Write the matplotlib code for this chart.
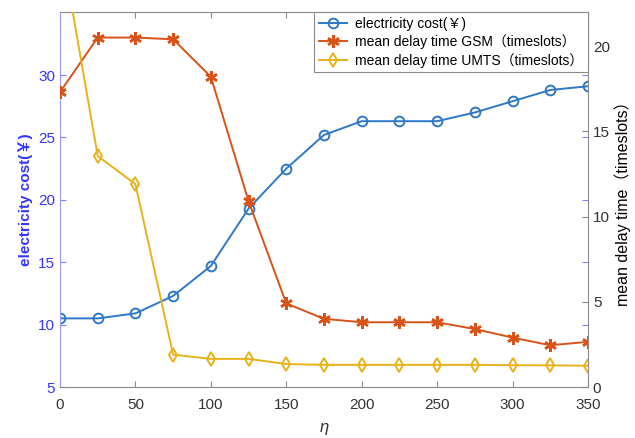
import matplotlib
matplotlib.use("Agg")
import matplotlib.pyplot as plt

plt.rcParams["font.family"] = ["Liberation Sans", "Noto Sans CJK SC", "DejaVu Sans"]

eta = [0, 25, 50, 75, 100, 125, 150, 175, 200, 225, 250, 275, 300, 325, 350]
cost = [10.5, 10.5, 10.9, 12.3, 14.7, 19.3, 22.5, 25.2, 26.3, 26.3, 26.3, 27.0, 27.9, 28.8, 29.1]
delay_gsm = [17.3, 20.5, 20.5, 20.4, 18.2, 10.9, 4.9, 4.0, 3.8, 3.8, 3.8, 3.4, 2.9, 2.45, 2.65]
delay_umts = [26.3, 13.55, 11.9, 1.9, 1.65, 1.65, 1.35, 1.3, 1.3, 1.3, 1.3, 1.3, 1.28, 1.27, 1.25]

left_ticks = [5, 10, 15, 20, 25, 30]
right_ticks = [0, 5, 10, 15, 20]
x_ticks = [0, 50, 100, 150, 200, 250, 300, 350]

C_BLUE = "#2f78c8"
C_RED = "#d95319"
C_YEL = "#e8b21a"
AX_BLUE = "#3535ff"
GRAY = "#8a8a8a"

fig = plt.figure(figsize=(6.35, 4.38), dpi=100)
ax = fig.add_axes([0.0945, 0.1164, 0.8315, 0.8562])
ax2 = ax.twinx()

l1, = ax.plot(eta, cost, "o-", color=C_BLUE, lw=1.4, ms=7, mfc="none", mew=1.4,
              label="electricity cost(￥)")
l2, = ax2.plot(eta, delay_gsm, "-", marker=(6, 2, 0), color=C_RED, lw=1.4, ms=9, mew=1.8,
               label="mean delay time GSM（timeslots）")
l3, = ax2.plot(eta, delay_umts, "d-", color=C_YEL, lw=1.4, ms=7, mfc="none", mew=1.4,
               label="mean delay time UMTS（timeslots）")

ax.set_xlim(0, 350)
ax.set_ylim(5, 35.05)
ax.set_yticks(left_ticks)
ax.set_xticks(x_ticks)
ax2.set_ylim(0, 22)
ax2.set_yticks(right_ticks)

for s in ["top", "bottom"]:
    ax.spines[s].set_color(GRAY)
ax.spines["left"].set_color("#9a9aff")
ax.spines["right"].set_visible(False)
for s in ["top", "bottom", "left"]:
    ax2.spines[s].set_visible(False)
ax2.spines["right"].set_color(GRAY)

ax.tick_params(axis="x", direction="in", top=True, colors=GRAY, labelcolor="#333333",
               labelsize=11, length=4, pad=8)
ax.tick_params(axis="y", direction="in", right=True, colors="#8080ff", labelcolor=AX_BLUE,
               labelsize=11, length=4)
ax2.tick_params(axis="y", direction="in", colors=GRAY, labelcolor="#333333",
                labelsize=11, length=4)

ax.set_xlabel("η", fontsize=12, style="italic", color="#333333", labelpad=6)
ax.set_ylabel("electricity cost(￥)", fontsize=11, fontweight="bold", color=AX_BLUE, labelpad=4)
ax2.set_ylabel("mean delay time（timeslots）", fontsize=11.5, color="black", labelpad=3)

leg = ax2.legend(handles=[l1, l2, l3], loc="upper right", fontsize=10,
                 borderaxespad=0, fancybox=False, framealpha=1, handlelength=2.0,
                 handletextpad=0.6, borderpad=0.35, labelspacing=0.25)
leg.get_frame().set_edgecolor(GRAY)
leg.get_frame().set_linewidth(0.8)

fig.savefig("out.png", dpi=100)
